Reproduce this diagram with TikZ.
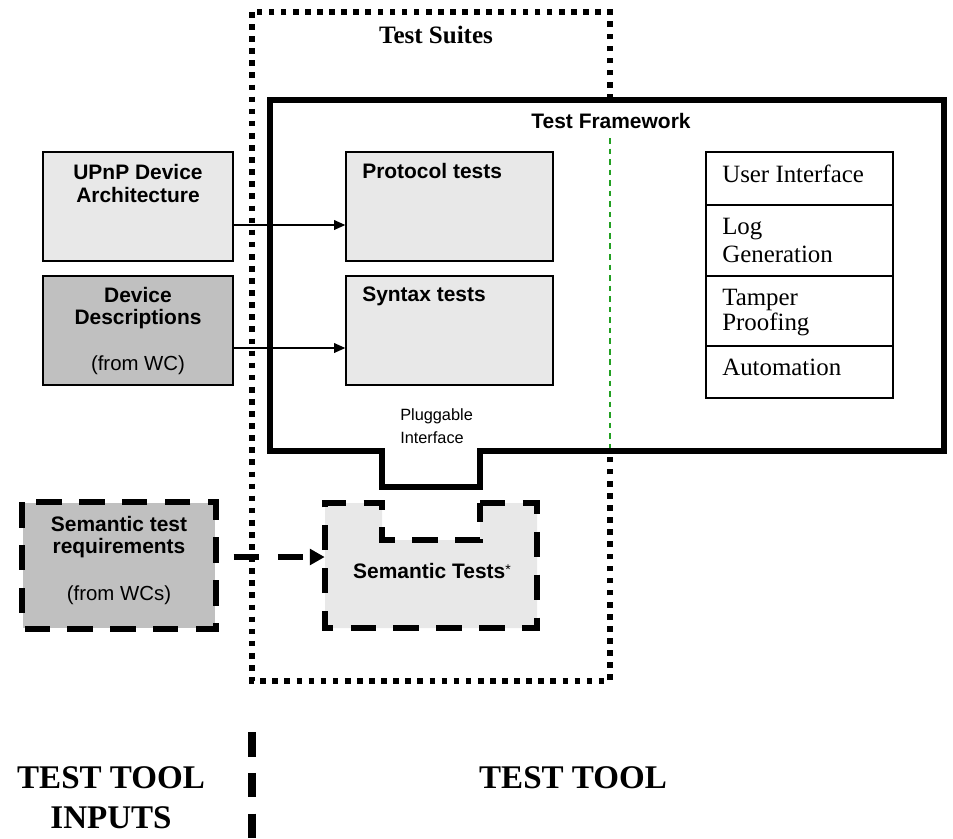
\documentclass[tikz,border=0pt]{standalone}
\usepackage{fontspec}
\setmainfont{Liberation Serif}
\setsansfont{Liberation Sans}
\usetikzlibrary{arrows.meta}
\definecolor{lightg}{HTML}{E8E8E8}
\definecolor{darkg}{HTML}{C0C0C0}
\definecolor{divgreen}{HTML}{22A022}
\begin{document}
\begin{tikzpicture}[x=0.025cm,y=-0.025cm,
  thinbox/.style={draw=black, line width=1pt, inner sep=0pt},
  lightbox/.style={thinbox, fill=lightg},
  darkbox/.style={thinbox, fill=darkg},
  stackbox/.style={thinbox, fill=white, minimum width=4.675cm},
  sansb/.style={font=\sffamily\bfseries\fontsize{14.9}{17}\selectfont, inner sep=0pt},
  sansr/.style={font=\sffamily\fontsize{14.5}{17}\selectfont, inner sep=0pt},
  serifr/.style={font=\fontsize{17.7}{20}\selectfont, inner sep=0pt, anchor=base west},
  serifbig/.style={font=\bfseries\fontsize{23.5}{26}\selectfont, inner sep=0pt, anchor=base},
  thinarrow/.style={line width=0.8pt, -{Triangle[length=8pt,width=7pt]}},
  dasharrow/.style={line width=3.8pt, dash pattern=on 17.8pt off 13.5pt, -{Triangle[length=10.5pt,width=11pt]}},
  semdash/.style={line width=4pt, dash pattern=on 18pt off 12.5pt},
]
\useasboundingbox (0,0) rectangle (953,838);

% Test Suites dotted box
\draw[line width=3.6pt, dash pattern=on 4pt off 4.6pt] (252,12) rectangle (610,681);
\node[font=\bfseries\fontsize{17.8}{20}\selectfont, inner sep=0pt, anchor=base] (suites) at (436,43) {Test Suites};

% Test Framework box
\draw[line width=4.3pt, fill=white, line join=miter]
  (270,100) -- (944,100) -- (944,451) -- (480,451) -- (480,487) -- (382,487) -- (382,451) -- (270,451) -- cycle;
\node[sansb, anchor=base] (fw) at (611,128) {Test Framework};
\draw[divgreen, line width=1pt, dash pattern=on 4pt off 3.5pt] (610,138) -- (610,448);

% input boxes
\node[lightbox, minimum width=4.75cm, minimum height=2.725cm] (upnp) at (138,206.5) {};
\node[sansb, anchor=base] (upnpt1) at (138,179) {UPnP Device};
\node[sansb, anchor=base] (upnpt2) at (138,202) {Architecture};

\node[darkbox, minimum width=4.75cm, minimum height=2.725cm] (devd) at (138,330.5) {};
\node[sansb, anchor=base] (devt1) at (138,302) {Device};
\node[sansb, anchor=base] (devt2) at (138,324) {Descriptions};
\node[sansr, anchor=base] (devt3) at (138,370) {(from WC)};

% test boxes
\node[lightbox, minimum width=5.175cm, minimum height=2.725cm] (proto) at (449.5,206.5) {};
\node[sansb, anchor=base west] (protot) at (362,178) {Protocol tests};
\node[lightbox, minimum width=5.175cm, minimum height=2.725cm] (syntax) at (449.5,330.5) {};
\node[sansb, anchor=base west] (syntaxt) at (362,301) {Syntax tests};

\draw[thinarrow] ([yshift=-0.4625cm]upnp.east) -- ([yshift=-0.4625cm]proto.west);
\draw[thinarrow] ([yshift=-0.4375cm]devd.east) -- ([yshift=-0.4375cm]syntax.west);

% right stack
\node[stackbox, minimum height=1.325cm] (ui) at (799.5,178.5) {};
\node[stackbox, minimum height=1.775cm] (log) at (799.5,240.5) {};
\node[stackbox, minimum height=1.75cm] (tamper) at (799.5,311) {};
\node[stackbox, minimum height=1.3cm] (auto) at (799.5,372) {};
\node[serifr] (uit) at (722,182) {User Interface};
\node[serifr] (logt1) at (722,234) {Log};
\node[serifr] (logt2) at (722,262) {Generation};
\node[serifr] (tampt1) at (722,305) {Tamper};
\node[serifr] (tampt2) at (722,330) {Proofing};
\node[serifr] (autot) at (722,375) {Automation};

% pluggable interface
\node[font=\sffamily\fontsize{11.6}{13}\selectfont, inner sep=0pt, anchor=base west] (plug1) at (400,420) {Pluggable};
\node[font=\sffamily\fontsize{11.6}{13}\selectfont, inner sep=0pt, anchor=base west] (plug2) at (400,443) {Interface};

% semantic tests
\fill[lightg] (480,503) -- (537,503) -- (537,628) -- (325,628) -- (325,503) -- (382,503) -- (382,540) -- (480,540) -- cycle;
\draw[semdash] (480,503) -- (537,503) -- (537,628) -- (325,628) -- (325,503) -- (382,503) -- (382,540) -- (480,540) -- (480,503);
\path (431,565.5) node[minimum width=5.3cm, minimum height=3.125cm, inner sep=0pt] (semt) {};
\node[sansb, anchor=base] (semtt) at (432,578) {Semantic Tests{\mdseries\fontsize{10}{12}\selectfont\raisebox{2.5pt}{*}}};

% semantic requirements
\node[darkbox, draw=none, minimum width=4.8cm, minimum height=3.125cm] (semreq) at (119,565.5) {};
\draw[semdash] (semreq.north west) rectangle (semreq.south east);
\node[sansb, anchor=base] (sr1) at (119,531) {Semantic test};
\node[sansb, anchor=base] (sr2) at (119,553) {requirements};
\node[sansr, anchor=base] (sr3) at (119,600) {(from WCs)};

\draw[dasharrow] ([xshift=0.45cm,yshift=0.2125cm]semreq.east) -- ([yshift=0.2125cm]semt.west);

% divider and bottom labels
\draw[line width=5pt, dash pattern=on 17.5pt off 11.5pt] (252,732) -- (252,838);
\node[serifbig] (inp1) at (111,788) {TEST TOOL};
\node[serifbig] (inp2) at (111,828) {INPUTS};
\node[serifbig] (tool) at (573,788) {TEST TOOL};
\end{tikzpicture}
\end{document}
